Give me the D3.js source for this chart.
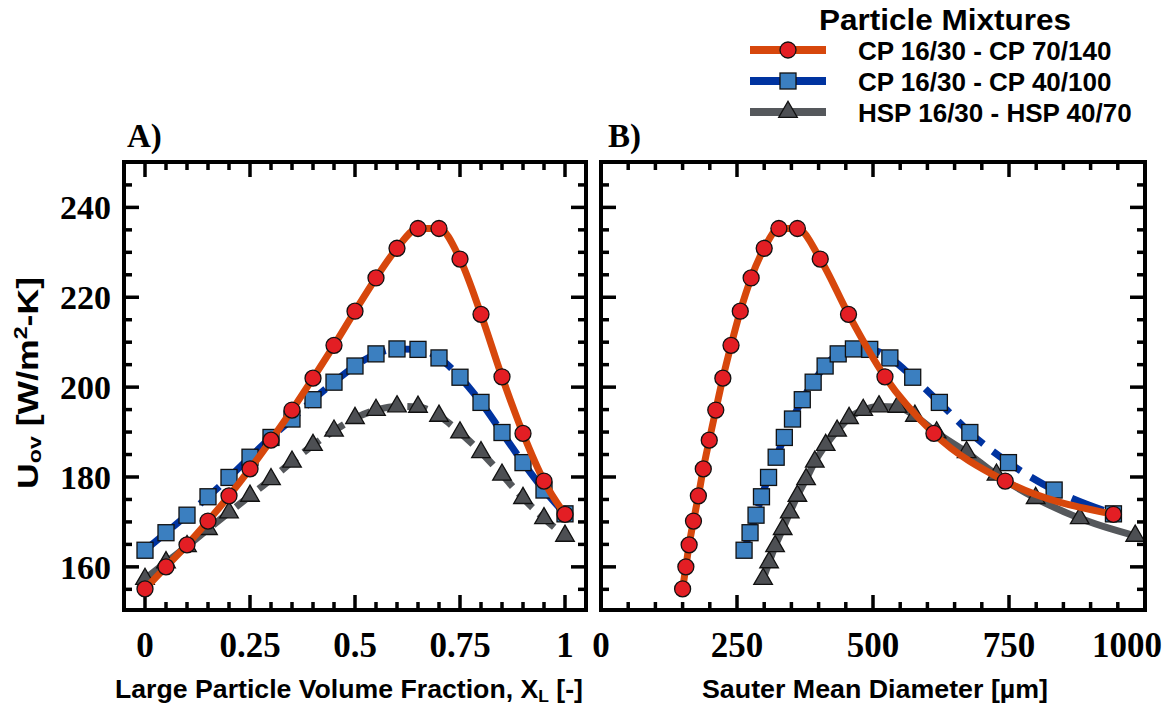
<!DOCTYPE html>
<html>
<head>
<meta charset="utf-8">
<script src="https://cdnjs.cloudflare.com/ajax/libs/d3/7.8.5/d3.min.js"></script>
<style>
  body { margin: 0; background: #fff; }
  svg { display: block; }
</style>
</head>
<body>
<script>
"use strict";

// large particle volume fraction X_L
let fraction = [0, 0.05, 0.1, 0.15, 0.2, 0.25, 0.3, 0.35, 0.4, 0.45, 0.5,
  0.55, 0.6, 0.65, 0.7, 0.75, 0.8, 0.85, 0.9, 0.95, 1];

// U_ov [W/m2-K]
let uRed = [155.1, 160.0, 164.9, 170.2, 175.8, 181.8, 188.2, 194.9, 202.0, 209.3, 216.9,
  224.3, 230.9, 235.3, 235.3, 228.5, 216.2, 202.3, 189.7, 179.1, 171.7];
let uBlue = [163.7, 167.6, 171.5, 175.6, 179.9, 184.4, 188.8, 192.9, 197.2, 201.1, 204.7,
  207.4, 208.5, 208.4, 206.5, 202.2, 196.6, 189.9, 183.2, 177.1, 171.8];
let uGray = [157.3, 161.0, 164.6, 168.4, 172.1, 175.8, 179.5, 183.4, 187.1, 190.3, 193.1,
  194.9, 195.7, 195.6, 193.6, 189.9, 185.5, 180.5, 175.3, 170.8, 166.9];

// Sauter mean diameter [um]
let dRed = [150, 156, 162, 170, 179, 188, 199, 211, 224, 239, 256,
  276, 300, 327, 361, 403, 455, 522, 612, 743, 942];
let dBlue = [263, 274, 285, 295, 308, 322, 337, 352, 370, 390, 412,
  436, 464, 494, 531, 573, 622, 678, 749, 833, 942];
let dGray = [298, 309, 320, 334, 347, 361, 377, 393, 413, 434, 456,
  482, 511, 545, 577, 617, 672, 727, 799, 880, 982];

let seriesNames = ["CP 16/30 - CP 70/140", "CP 16/30 - CP 40/100", "HSP 16/30 - HSP 40/70"];
let xTicksA = [0, 0.25, 0.5, 0.75, 1];
let xLabelsA = ["0", "0.25", "0.5", "0.75", "1"];
let xTicksB = [0, 250, 500, 750, 1000];
let yTicks = [160, 180, 200, 220, 240];

let width = 1165;
let height = 707;

let svg = d3.select("body").append("svg").attr("width", width).attr("height", height);

let y = d3.scaleLinear().domain([150.4, 250.1]).range([610, 162]);
let xA = d3.scaleLinear().domain([-0.05, 1.05]).range([124, 586]);
let xB = d3.scaleLinear().domain([0, 1000]).range([601, 1145]);

let styles = [
  { line: "#d7470c", fill: "#e31e24", shape: "circle", dashA: null, dashB: null },
  { line: "#0033a0", fill: "#3b7fc0", shape: "square", dashA: "26,10", dashB: "34,12" },
  { line: "#55585c", fill: "#4d4f53", shape: "triangle", dashA: "20,9", dashB: null }
];

let serif = "'Liberation Serif', 'Times New Roman', serif";
let sans = "'Liberation Sans', Arial, sans-serif";

function drawMarker(sel, shape) {
  if (shape === "circle") {
    sel.append("circle").attr("r", 8);
  } else if (shape === "square") {
    sel.append("rect").attr("x", -8).attr("y", -8).attr("width", 16).attr("height", 16);
  } else {
    sel.append("path").attr("d", d3.symbol(d3.symbolTriangle, 150)());
  }
}

function panel(x, xs, xTicks, xLabels, minorStep, tag, tagX, dashKey) {
  let g = svg.append("g");
  let left = x.range()[0], right = x.range()[1];

  // ticks (inside, all four sides)
  let xd = x.domain();
  let minorX = d3.range(Math.ceil(xd[0] / minorStep) * minorStep, xd[1] + 1e-9, minorStep)
    .filter(v => !xTicks.some(t => Math.abs(t - v) < 1e-9));
  let minorY = d3.range(155, 250, 5).filter(v => !yTicks.includes(v));

  let tickG = g.append("g").attr("stroke", "#000").attr("stroke-width", 3.5);
  [[xTicks, 15], [minorX, 8]].forEach(([vals, len]) => {
    tickG.selectAll(null).data(vals).enter().append("line")
      .attr("x1", d => x(d)).attr("x2", d => x(d))
      .attr("y1", 610).attr("y2", 610 - len);
    tickG.selectAll(null).data(vals).enter().append("line")
      .attr("x1", d => x(d)).attr("x2", d => x(d))
      .attr("y1", 162).attr("y2", 162 + len);
  });
  [[yTicks, 15], [minorY, 8]].forEach(([vals, len]) => {
    tickG.selectAll(null).data(vals).enter().append("line")
      .attr("y1", d => y(d)).attr("y2", d => y(d))
      .attr("x1", left).attr("x2", left + len);
    tickG.selectAll(null).data(vals).enter().append("line")
      .attr("y1", d => y(d)).attr("y2", d => y(d))
      .attr("x1", right).attr("x2", right - len);
  });

  // series: gray first, red on top
  let us = [uRed, uBlue, uGray];
  [2, 1, 0].forEach(i => {
    let pts = xs[i].map((v, j) => [x(v), y(us[i][j])]);
    let line = d3.line().curve(d3.curveMonotoneX);
    g.append("path")
      .attr("d", line(pts))
      .attr("fill", "none")
      .attr("stroke", styles[i].line)
      .attr("stroke-width", 7)
      .attr("stroke-dasharray", styles[i][dashKey]);
    let m = g.append("g").selectAll("g").data(pts).enter().append("g")
      .attr("transform", d => "translate(" + d[0] + "," + d[1] + ")");
    drawMarker(m, styles[i].shape);
    m.selectAll("*").attr("fill", styles[i].fill).attr("stroke", "#111").attr("stroke-width", 1.3);
  });

  // frame
  g.append("rect")
    .attr("x", left).attr("y", 162)
    .attr("width", right - left).attr("height", 448)
    .attr("fill", "none").attr("stroke", "#000").attr("stroke-width", 4);

  // tick labels
  g.selectAll(null).data(xTicks).enter().append("text")
    .attr("x", (d, i) => i === xTicks.length - 1 && x(d) > 1130 ? 1162 : x(d))
    .attr("y", 657)
    .attr("text-anchor", (d, i) => i === xTicks.length - 1 && x(d) > 1130 ? "end" : "middle")
    .attr("font-family", serif).attr("font-weight", "bold").attr("font-size", 35)
    .text((d, i) => xLabels[i]);

  g.append("text")
    .attr("x", tagX).attr("y", 147)
    .attr("font-family", serif).attr("font-weight", "bold").attr("font-size", 33)
    .text(tag);
}

panel(xA, [fraction, fraction, fraction], xTicksA, xLabelsA, 0.05, "A)", 127, "dashA");
panel(xB, [dRed, dBlue, dGray], xTicksB, xTicksB.map(String), 50, "B)", 608, "dashB");

// y tick labels
svg.append("g").selectAll("text").data(yTicks).enter().append("text")
  .attr("x", 111).attr("y", d => y(d) + 12)
  .attr("text-anchor", "end")
  .attr("font-family", serif).attr("font-weight", "bold").attr("font-size", 34)
  .text(d => d);

// axis titles
let xt = svg.append("text")
  .attr("x", 349).attr("y", 698).attr("text-anchor", "middle")
  .attr("font-family", sans).attr("font-weight", "bold").attr("font-size", 26)
  .attr("textLength", 468).attr("lengthAdjust", "spacingAndGlyphs");
xt.append("tspan").text("Large Particle Volume Fraction, X");
xt.append("tspan").attr("font-size", 17).attr("dy", 4).text("L");
xt.append("tspan").attr("dy", -4).text(" [-]");

svg.append("text")
  .attr("x", 875).attr("y", 698).attr("text-anchor", "middle")
  .attr("font-family", sans).attr("font-weight", "bold").attr("font-size", 26)
  .attr("textLength", 346).attr("lengthAdjust", "spacingAndGlyphs")
  .text("Sauter Mean Diameter [\u00b5m]");

let yt = svg.append("text")
  .attr("transform", "translate(38,383) rotate(-90)")
  .attr("text-anchor", "middle")
  .attr("font-family", sans).attr("font-weight", "bold").attr("font-size", 29)
  .attr("textLength", 212).attr("lengthAdjust", "spacingAndGlyphs");
yt.append("tspan").text("U");
yt.append("tspan").attr("font-size", 19).attr("dy", 3).text("ov");
yt.append("tspan").attr("dy", -3).text(" [W/m");
yt.append("tspan").attr("font-size", 19).attr("dy", -11).text("2");
yt.append("tspan").attr("dy", 11).text("-K]");

// legend
let legend = svg.append("g");
legend.append("text")
  .attr("x", 945).attr("y", 30).attr("text-anchor", "middle")
  .attr("font-family", sans).attr("font-weight", "bold").attr("font-size", 29)
  .attr("textLength", 252).attr("lengthAdjust", "spacingAndGlyphs")
  .text("Particle Mixtures");

let rowY = [50, 81, 112];
seriesNames.forEach((name, i) => {
  let row = legend.append("g").attr("transform", "translate(0," + rowY[i] + ")");
  row.append("line")
    .attr("x1", 750).attr("x2", 826).attr("y1", 0).attr("y2", 0)
    .attr("stroke", styles[i].line).attr("stroke-width", 8);
  let m = row.append("g").attr("transform", "translate(788,0)");
  drawMarker(m, styles[i].shape);
  m.selectAll("*").attr("fill", styles[i].fill).attr("stroke", "#111").attr("stroke-width", 1.3);
  row.append("text")
    .attr("x", 858).attr("y", 9.5)
    .attr("font-family", sans).attr("font-weight", "bold").attr("font-size", 26)
    .text(name);
});
</script>
</body>
</html>
